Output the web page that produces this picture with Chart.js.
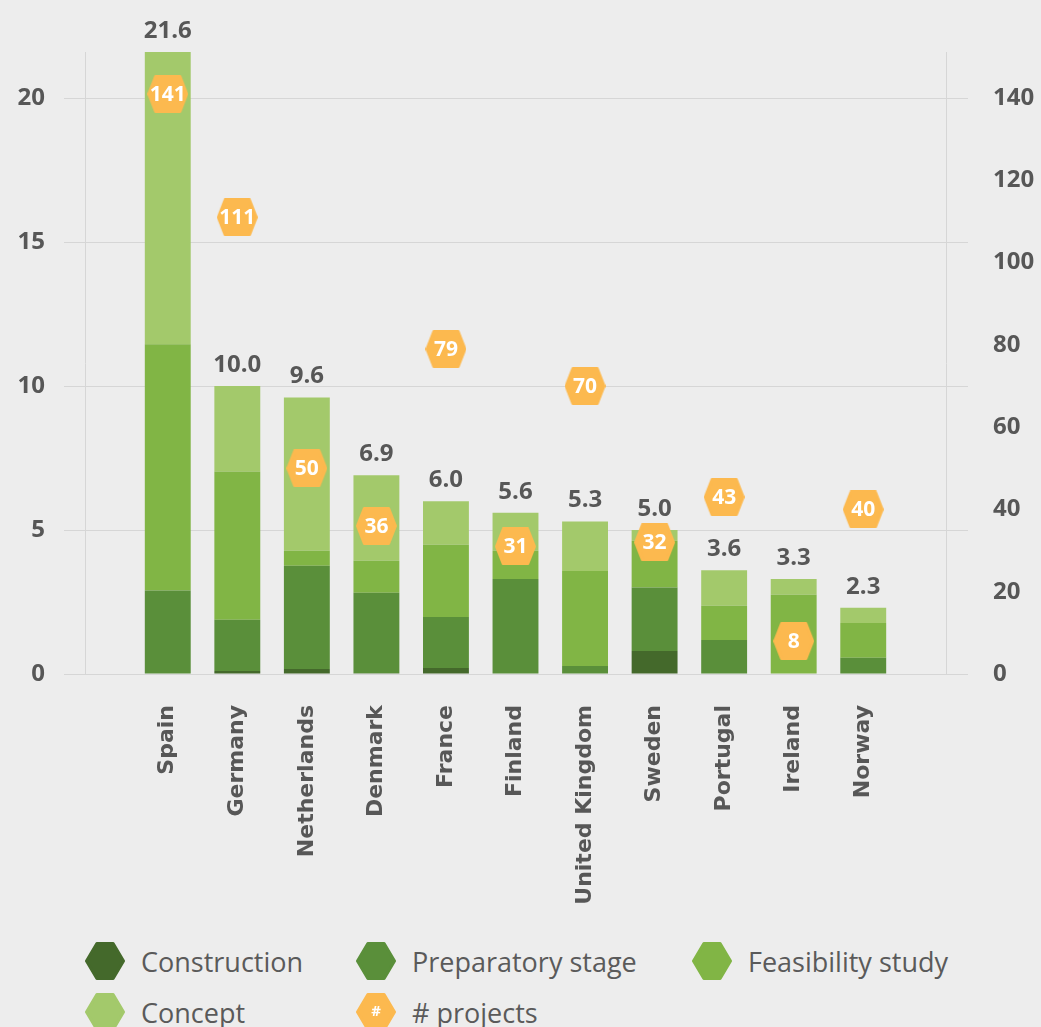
<!DOCTYPE html>
<html lang="en">
<head>
    <meta charset="UTF-8">
    <title>Projects by country</title>
    <script src="https://cdn.jsdelivr.net/npm/chart.js"></script>
    <style>
        body {
            margin: 0;
            background: #ededed;
            font-family: "Open Sans", sans-serif;
            overflow: hidden;
        }
        .wrap {
            position: relative;
            width: 1041px;
            height: 1027px;
        }
        .chart-box {
            position: absolute;
            left: 0;
            top: 0;
            width: 1041px;
            height: 930px;
        }
        .legend-item {
            position: absolute;
            height: 40px;
            display: flex;
            align-items: center;
            font-size: 27px;
            color: #5a5a5a;
            white-space: nowrap;
        }
        .legend-item canvas {
            margin-right: 16px;
        }
    </style>
</head>
<body>
<div class="wrap">
    <div class="chart-box"><canvas id="chart"></canvas></div>
    <div id="legend"></div>
</div>

<script>
    const countries = ['Spain', 'Germany', 'Netherlands', 'Denmark', 'France', 'Finland',
        'United Kingdom', 'Sweden', 'Portugal', 'Ireland', 'Norway'];
    const construction = [0, 0.1, 0.17, 0.03, 0.21, 0, 0, 0.8, 0, 0, 0];
    const preparatory = [2.9, 1.78, 3.59, 2.79, 1.77, 3.3, 0.28, 2.2, 1.18, 0.02, 0.56];
    const feasibility = [8.55, 5.15, 0.52, 1.11, 2.51, 0.98, 3.3, 1.63, 1.19, 2.73, 1.21];
    const concept = [10.15, 2.97, 5.32, 2.97, 1.51, 1.32, 1.72, 0.37, 1.23, 0.55, 0.53];
    const totals = [21.6, 10.0, 9.6, 6.9, 6.0, 5.6, 5.3, 5.0, 3.6, 3.3, 2.3];
    const projects = [141, 111, 50, 36, 79, 31, 70, 32, 43, 8, 40];

    const colors = {
        construction: '#44692b',
        preparatory: '#5a8f3a',
        feasibility: '#81b545',
        concept: '#a3c96b',
        projects: '#fcb94f'
    };
    const textGray = '#575757';
    const gridGray = '#d6d6d6';

    function hexPath(ctx, cx, cy, w, h, k) {
        ctx.beginPath();
        ctx.moveTo(cx - w / 2, cy);
        ctx.lineTo(cx - w / 2 + k, cy - h / 2);
        ctx.lineTo(cx + w / 2 - k, cy - h / 2);
        ctx.lineTo(cx + w / 2, cy);
        ctx.lineTo(cx + w / 2 - k, cy + h / 2);
        ctx.lineTo(cx - w / 2 + k, cy + h / 2);
        ctx.closePath();
    }

    function makeHex(color, w, h, kRatio, canvas) {
        const c = canvas || document.createElement('canvas');
        c.width = w;
        c.height = h;
        const ctx = c.getContext('2d');
        hexPath(ctx, w / 2, h / 2, w - 3, h - 3, (w - 3) * kRatio);
        ctx.fillStyle = color;
        ctx.strokeStyle = color;
        ctx.lineWidth = 3;
        ctx.lineJoin = 'round';
        ctx.fill();
        ctx.stroke();
        return c;
    }

    const hexPoint = makeHex(colors.projects, 41, 38, 0.18);

    // labels on top of the stacks and inside the hexagons
    const labelPlugin = {
        id: 'labels',
        afterDatasetsDraw(chart) {
            const ctx = chart.ctx;
            const xs = chart.scales.x;
            const ys = chart.scales.y;
            ctx.save();
            ctx.textAlign = 'center';
            ctx.textBaseline = 'middle';
            ctx.font = 'bold 24px "Open Sans"';
            ctx.fillStyle = textGray;
            totals.forEach((t, i) => {
                ctx.fillText(t.toFixed(1), xs.getPixelForValue(i), ys.getPixelForValue(t) - 21);
            });
            const meta = chart.getDatasetMeta(4);
            ctx.font = 'bold 21px "Open Sans"';
            ctx.fillStyle = '#ffffff';
            meta.data.forEach((pt, i) => {
                ctx.fillText(String(projects[i]), pt.x, pt.y + 1);
            });
            ctx.restore();
        }
    };

    // left gridlines run on past the right border, like tick marks
    const gridExtend = {
        id: 'gridExtend',
        afterDraw(chart) {
            const ctx = chart.ctx;
            const ys = chart.scales.y;
            const right = chart.chartArea.right;
            ctx.save();
            ctx.strokeStyle = gridGray;
            ctx.lineWidth = 1;
            ys.ticks.forEach(t => {
                const y = Math.round(ys.getPixelForValue(t.value)) + 0.5;
                ctx.beginPath();
                ctx.moveTo(right, y);
                ctx.lineTo(right + 22, y);
                ctx.stroke();
            });
            ctx.restore();
        }
    };

    const barOpts = {
        type: 'bar',
        yAxisID: 'y',
        order: 1,
        categoryPercentage: 0.66,
        barPercentage: 1,
        borderWidth: 0
    };

    new Chart(document.getElementById('chart'), {
        type: 'bar',
        data: {
            labels: countries.map((_, i) => i),
            datasets: [
                { ...barOpts, label: 'Construction', data: construction, backgroundColor: colors.construction },
                { ...barOpts, label: 'Preparatory stage', data: preparatory, backgroundColor: colors.preparatory },
                { ...barOpts, label: 'Feasibility study', data: feasibility, backgroundColor: colors.feasibility },
                { ...barOpts, label: 'Concept', data: concept, backgroundColor: colors.concept },
                {
                    type: 'line',
                    label: '# projects',
                    data: projects,
                    yAxisID: 'y1',
                    order: 0,
                    showLine: false,
                    pointStyle: hexPoint,
                    pointRadius: 18,
                    pointHoverRadius: 18
                }
            ]
        },
        options: {
            responsive: true,
            maintainAspectRatio: false,
            animation: false,
            devicePixelRatio: 1,
            layout: { autoPadding: false, padding: { top: 52, left: 0, right: 0, bottom: 0 } },
            plugins: {
                legend: { display: false },
                tooltip: { enabled: false }
            },
            scales: {
                x: {
                    type: 'linear',
                    min: -1.19,
                    max: 11.19,
                    offset: false,
                    stacked: true,
                    grid: { display: false, drawTicks: false },
                    border: { display: false },
                    ticks: {
                        stepSize: 1,
                        includeBounds: false,
                        autoSkip: false,
                        maxRotation: 90,
                        minRotation: 90,
                        padding: 31,
                        color: textGray,
                        font: { family: 'DejaVu Sans', size: 22, weight: 'bold' },
                        callback: v => (Number.isInteger(v) && countries[v]) ? countries[v] : ''
                    },
                    afterFit(scale) { scale.height = 256; }
                },
                y: {
                    position: 'left',
                    stacked: true,
                    min: 0,
                    max: 21.6,
                    grid: { color: gridGray, tickLength: 21 },
                    border: { color: gridGray },
                    ticks: {
                        stepSize: 5,
                        includeBounds: false,
                        padding: 19,
                        color: textGray,
                        font: { family: 'Open Sans', size: 24, weight: 'bold' }
                    },
                    afterFit(scale) { scale.width = 85; }
                },
                y1: {
                    position: 'right',
                    min: 0,
                    max: 151.2,
                    grid: { drawOnChartArea: false, drawTicks: true, tickLength: 22, color: 'rgba(0,0,0,0)' },
                    border: { color: gridGray },
                    ticks: {
                        stepSize: 20,
                        includeBounds: false,
                        padding: 25,
                        color: textGray,
                        font: { family: 'Open Sans', size: 24, weight: 'bold' }
                    },
                    afterFit(scale) { scale.width = 95; }
                }
            }
        },
        plugins: [labelPlugin, gridExtend]
    });

    // legend
    const legendItems = [
        { label: 'Construction', color: colors.construction, left: 85, top: 941 },
        { label: 'Preparatory stage', color: colors.preparatory, left: 356, top: 941 },
        { label: 'Feasibility study', color: colors.feasibility, left: 692, top: 941 },
        { label: 'Concept', color: colors.concept, left: 85, top: 992 },
        { label: '# projects', color: colors.projects, left: 356, top: 992, mark: '#' }
    ];
    const legend = document.getElementById('legend');
    legendItems.forEach(item => {
        const div = document.createElement('div');
        div.className = 'legend-item';
        div.style.left = item.left + 'px';
        div.style.top = item.top + 'px';
        const c = document.createElement('canvas');
        makeHex(item.color, 40, 38, 0.28, c);
        if (item.mark) {
            const ctx = c.getContext('2d');
            ctx.fillStyle = '#fff';
            ctx.font = 'bold 15px "Open Sans"';
            ctx.textAlign = 'center';
            ctx.textBaseline = 'middle';
            ctx.fillText(item.mark, 20, 19);
        }
        div.appendChild(c);
        const span = document.createElement('span');
        span.textContent = item.label;
        div.appendChild(span);
        legend.appendChild(div);
    });
</script>
</body>
</html>
